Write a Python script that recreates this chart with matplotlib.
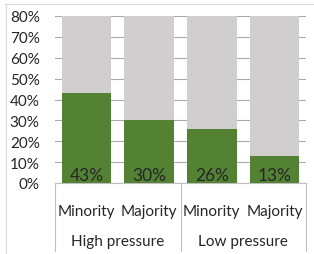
import matplotlib

matplotlib.use("Agg")
import matplotlib.pyplot as plt
from matplotlib.lines import Line2D
from matplotlib.transforms import blended_transform_factory

plt.rcParams["font.family"] = ["Lato", "DejaVu Sans"]

groups = ["High pressure", "Low pressure"]
categories = ["Minority", "Majority", "Minority", "Majority"]
values = [0.43, 0.30, 0.26, 0.13]
ceiling = 0.80
yticks = [0.0, 0.1, 0.2, 0.3, 0.4, 0.5, 0.6, 0.7, 0.8]

COLOR_GREEN = "#548235"
COLOR_GRAY = "#D0CECE"
COLOR_GRID = "#ABABAB"
COLOR_AXIS = "#BFBFBF"
COLOR_TEXT = "#262626"

W, H = 314, 255
fig = plt.figure(figsize=(W / 100, H / 100), dpi=100)
ax = fig.add_axes([55 / W, (H - 184) / H, (306 - 55) / W, (184 - 17) / H])

x = list(range(len(categories)))
ax.bar(x, [ceiling] * len(x), width=0.79, color=COLOR_GRAY, zorder=2)
ax.bar(x, values, width=0.79, color=COLOR_GREEN, zorder=3)
for xi, v in zip(x, values):
    ax.annotate(f"{round(v * 100)}%", (xi, 0), xytext=(0, 0), textcoords="offset points",
                ha="center", va="bottom", fontsize=12.5, color=COLOR_TEXT, zorder=4)

ax.set_xlim(-0.5, len(x) - 0.5)
ax.set_ylim(0, 0.8)
ax.set_yticks(yticks)
ax.set_yticklabels([f"{round(t * 100)}%" for t in yticks], fontsize=11, color=COLOR_TEXT)
ax.tick_params(axis="y", length=0, pad=11)
ax.set_xticks([])
ax.grid(axis="y", color=COLOR_GRID, lw=0.8, zorder=1)
ax.set_axisbelow(True)
for s in ["top", "right", "left"]:
    ax.spines[s].set_visible(False)
ax.spines["bottom"].set_color(COLOR_AXIS)
ax.spines["bottom"].set_linewidth(0.8)

# category labels and group labels below the axis
tr = blended_transform_factory(ax.transData, fig.transFigure)
for xi, c in zip(x, categories):
    ax.text(xi, (H - 212) / H, c, transform=tr, ha="center", va="center",
            fontsize=11, color=COLOR_TEXT)
for gi, g in enumerate(groups):
    ax.text(gi * 2 + 0.5, (H - 242) / H, g, transform=tr, ha="center", va="center",
            fontsize=11, color=COLOR_TEXT)
for sx in [-0.5, 1.5, 3.5]:
    ax.add_line(Line2D([sx, sx], [(H - 184) / H, (H - 252) / H], transform=tr,
                       color=COLOR_AXIS, lw=0.8, clip_on=False))

# chart area border
fig.add_artist(Line2D([5 / W, 1], [(H - 4.5) / H] * 2, transform=fig.transFigure,
                      color="#D9D9D9", lw=0.8))
fig.add_artist(Line2D([5.5 / W] * 2, [0, (H - 4.5) / H], transform=fig.transFigure,
                      color="#D9D9D9", lw=0.8))

fig.savefig("out.png", dpi=100)
